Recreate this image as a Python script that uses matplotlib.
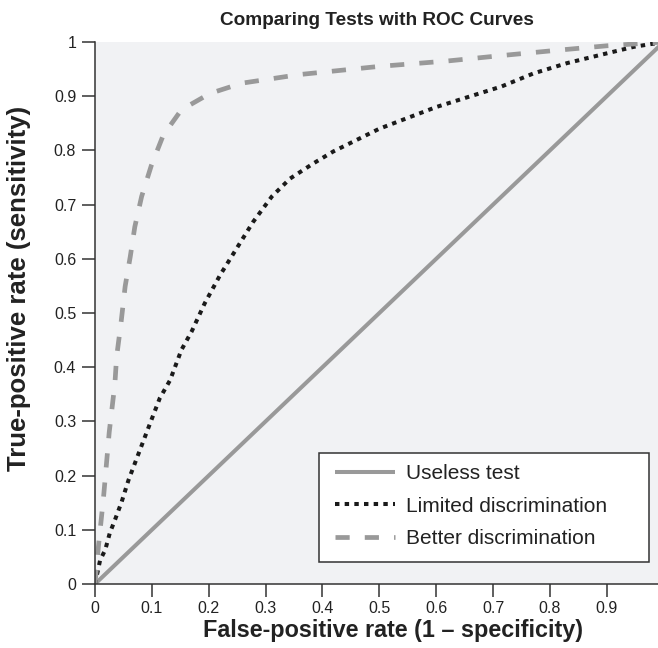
import matplotlib
matplotlib.use("Agg")
import matplotlib.pyplot as plt
from matplotlib.patches import Rectangle

plt.rcParams['font.family'] = ['Liberation Sans', 'DejaVu Sans']

# Data
useless_x = [0.0, 1.0]
useless_y = [0.0, 1.0]

limited_x = [0.0, 0.009, 0.018, 0.026, 0.035, 0.047, 0.059, 0.080, 0.100, 0.114, 0.132,
             0.152, 0.170, 0.193, 0.220, 0.249, 0.278, 0.311, 0.343, 0.384, 0.419,
             0.500, 0.600, 0.715, 0.771, 0.830, 0.888, 0.947, 1.0]
limited_y = [0.0, 0.044, 0.063, 0.094, 0.118, 0.152, 0.192, 0.250, 0.305, 0.343, 0.376,
             0.432, 0.466, 0.518, 0.570, 0.619, 0.668, 0.715, 0.748, 0.776, 0.798,
             0.840, 0.880, 0.918, 0.942, 0.961, 0.976, 0.991, 1.0]

better_x = [0.0, 0.006, 0.015, 0.025, 0.035, 0.038, 0.046, 0.053, 0.062, 0.070, 0.082,
            0.099, 0.120, 0.152, 0.202, 0.258, 0.360, 0.500, 0.620, 0.715, 0.815,
            0.900, 1.0]
better_y = [0.0, 0.069, 0.160, 0.280, 0.370, 0.419, 0.484, 0.549, 0.604, 0.659, 0.715,
            0.772, 0.828, 0.875, 0.905, 0.924, 0.940, 0.955, 0.965, 0.975, 0.985,
            0.993, 1.0]

xticks = [0, 0.1, 0.2, 0.3, 0.4, 0.5, 0.6, 0.7, 0.8, 0.9]
xtick_labels = ["0", "0.1", "0.2", "0.3", "0.4", "0.5", "0.6", "0.7", "0.8", "0.9"]
yticks = [0, 0.1, 0.2, 0.3, 0.4, 0.5, 0.6, 0.7, 0.8, 0.9, 1.0]
ytick_labels = ["0", "0.1", "0.2", "0.3", "0.4", "0.5", "0.6", "0.7", "0.8", "0.9", "1"]

labels = ["Useless test", "Limited discrimination", "Better discrimination"]

W, H = 658, 648
fig = plt.figure(figsize=(W/100, H/100), dpi=100)
ax_l, ax_r, ax_t, ax_b = 95, 658, 42, 584
ax = fig.add_axes([ax_l/W, 1-ax_b/H, (ax_r-ax_l)/W, (ax_b-ax_t)/H])
ax.set_facecolor('#f1f2f4')

def ax_x(px):
    return (px-ax_l)/(ax_r-ax_l)
def ax_y(py):
    return (ax_b-py)/(ax_b-ax_t)

ax.plot(useless_x, useless_y, color='#999999', lw=2.9, solid_capstyle='butt', label=labels[0])
ax.plot(limited_x, limited_y, color='#1a1a1a', lw=2.9, linestyle=(0, (1.1, 1.3)),
        dash_capstyle='butt', label=labels[1])
ax.plot(better_x, better_y, color='#999999', lw=3.4, linestyle=(0, (3.0, 3.2)),
        dash_capstyle='butt', label=labels[2])

ax.set_xlim(0, 0.99)
ax.set_ylim(0, 1)
ax.set_xticks(xticks)
ax.set_xticklabels(xtick_labels)
ax.set_yticks(yticks)
ax.set_yticklabels(ytick_labels)

for s in ['top', 'right']:
    ax.spines[s].set_visible(False)
for s in ['left', 'bottom']:
    ax.spines[s].set_color('#333333')
    ax.spines[s].set_linewidth(1.1)
ax.tick_params(axis='both', direction='out', length=9.5, width=1.1, color='#333333',
               labelsize=11.5, labelcolor='#222222')
ax.tick_params(axis='x', pad=3)
ax.tick_params(axis='y', pad=4)

ax.set_title("Comparing Tests with ROC Curves", fontsize=13.7, fontweight='bold',
             color='#222222', pad=12)
ax.set_xlabel("False-positive rate (1 \u2013 specificity)", fontsize=16.8, fontweight='bold',
              color='#222222')
ax.xaxis.set_label_coords(ax_x(393), ax_y(619))
ax.set_ylabel("True-positive rate (sensitivity)", fontsize=18.5, fontweight='bold',
              color='#222222')
ax.yaxis.set_label_coords(ax_x(31), 0.545)

# legend frame (drawn as a rectangle in axes coordinates)
frame = Rectangle((ax_x(319), ax_y(562)), ax_x(649)-ax_x(319), ax_y(453)-ax_y(562),
                  transform=ax.transAxes, facecolor='white', edgecolor='#333333',
                  lw=1.1, zorder=4)
ax.add_patch(frame)

leg = ax.legend(loc='upper left', bbox_to_anchor=(ax_x(335), ax_y(464)), fontsize=15,
                frameon=False, handlelength=2.88, handletextpad=0.53, borderpad=0,
                labelspacing=0.65, borderaxespad=0)
leg.set_zorder(5)
for t in leg.get_texts():
    t.set_color('#222222')

fig.savefig("out.png", dpi=100)
